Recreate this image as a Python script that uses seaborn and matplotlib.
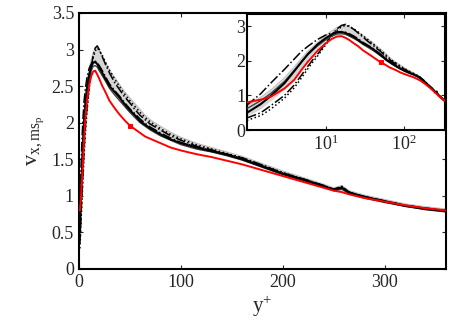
import numpy as np
import pandas as pd
import matplotlib
matplotlib.use("Agg")
import matplotlib.pyplot as plt
import seaborn as sns

# ---- data ----
yplus = [1, 1.5, 2, 3, 4, 5, 6, 7, 8, 10, 12, 14, 16, 18, 20, 23, 26, 30, 35, 40,
         45, 50, 55, 60, 65, 70, 80, 90, 100, 115, 130, 145, 160, 180, 200, 220,
         240, 250, 258, 265, 280, 300, 320, 340, 360]

red = [0.80, 0.88, 0.96, 1.20, 1.45, 1.75, 1.98, 2.15, 2.30, 2.50, 2.63, 2.70, 2.71, 2.66,
       2.60, 2.50, 2.42, 2.30, 2.20, 2.11, 2.03, 1.96, 1.91, 1.86, 1.81, 1.78, 1.72, 1.66,
       1.62, 1.57, 1.53, 1.48, 1.43, 1.35, 1.27, 1.19, 1.11, 1.07, 1.05, 1.02, 0.97, 0.92,
       0.87, 0.83, 0.80]

black_a = [0.50, 0.75, 0.98, 1.35, 1.70, 1.98, 2.20, 2.35, 2.48, 2.65, 2.76, 2.82, 2.83,
           2.80, 2.75, 2.68, 2.60, 2.50, 2.42, 2.34, 2.25, 2.17, 2.10, 2.02, 1.97, 1.92,
           1.84, 1.77, 1.72, 1.66, 1.61, 1.56, 1.50, 1.40, 1.30, 1.22, 1.13, 1.08, 1.11,
           1.04, 0.98, 0.92, 0.86, 0.82, 0.79]

black_b = [0.62, 0.85, 1.05, 1.40, 1.72, 1.98, 2.18, 2.32, 2.44, 2.60, 2.71, 2.77, 2.78,
           2.76, 2.71, 2.64, 2.57, 2.47, 2.38, 2.30, 2.22, 2.14, 2.07, 2.00, 1.95, 1.90,
           1.82, 1.76, 1.70, 1.64, 1.60, 1.55, 1.49, 1.39, 1.29, 1.21, 1.12, 1.07, 1.09,
           1.03, 0.97, 0.91, 0.86, 0.81, 0.78]

dashdot_early = [0.72, 1.05, 1.35, 1.75, 2.05, 2.28, 2.42, 2.53, 2.62, 2.74, 2.80, 2.83,
                 2.84, 2.82, 2.78, 2.71, 2.63, 2.53, 2.44, 2.36, 2.27, 2.19, 2.12, 2.05,
                 1.99, 1.94, 1.86, 1.79, 1.73, 1.67, 1.62, 1.57, 1.51, 1.41, 1.31, 1.23,
                 1.14, 1.09, 1.12, 1.05, 0.99, 0.93, 0.87, 0.83, 0.80]

dashdot_late = [0.35, 0.50, 0.70, 1.00, 1.30, 1.60, 1.85, 2.05, 2.20, 2.50, 2.75, 2.92,
                3.02, 3.05, 3.00, 2.90, 2.80, 2.68, 2.55, 2.45, 2.35, 2.27, 2.18, 2.10,
                2.04, 1.98, 1.90, 1.82, 1.76, 1.68, 1.63, 1.57, 1.52, 1.42, 1.31, 1.23,
                1.14, 1.09, 1.13, 1.05, 0.99, 0.93, 0.87, 0.83, 0.80]

dotted = [0.28, 0.42, 0.60, 0.92, 1.22, 1.52, 1.78, 1.98, 2.15, 2.45, 2.70, 2.88, 2.98,
          3.02, 2.99, 2.92, 2.83, 2.72, 2.60, 2.49, 2.39, 2.30, 2.22, 2.14, 2.07, 2.01,
          1.92, 1.84, 1.78, 1.70, 1.64, 1.58, 1.52, 1.42, 1.32, 1.23, 1.14, 1.09, 1.12,
          1.05, 0.99, 0.93, 0.87, 0.83, 0.80]

grey_lo = [0.40, 0.62, 0.85, 1.18, 1.52, 1.82, 2.06, 2.24, 2.38, 2.58, 2.72, 2.80, 2.82,
           2.80, 2.76, 2.69, 2.61, 2.51, 2.42, 2.34, 2.25, 2.17, 2.10, 2.03, 1.97, 1.92,
           1.84, 1.77, 1.71, 1.65, 1.60, 1.54, 1.48, 1.38, 1.28, 1.20, 1.11, 1.06, 1.07,
           1.02, 0.96, 0.90, 0.85, 0.81, 0.78]

grey_hi = [0.70, 0.95, 1.15, 1.50, 1.82, 2.08, 2.28, 2.42, 2.54, 2.72, 2.86, 2.96, 3.02,
           3.02, 2.98, 2.90, 2.82, 2.72, 2.62, 2.52, 2.42, 2.34, 2.26, 2.18, 2.10, 2.04,
           1.95, 1.87, 1.80, 1.72, 1.66, 1.60, 1.54, 1.44, 1.34, 1.25, 1.16, 1.11, 1.14,
           1.07, 1.01, 0.95, 0.89, 0.85, 0.82]

marker_yplus = 50

main_xticks = [0, 100, 200, 300]
main_yticks = [0, 0.5, 1, 1.5, 2, 2.5, 3, 3.5]
main_yticklabels = ["0", "0.5", "1", "1.5", "2", "2.5", "3", "3.5"]
inset_xticks = [10, 100]
inset_yticks = [0, 1, 2, 3]

# ---- style ----
sns.set_style("ticks")
plt.rcParams["font.family"] = ["Liberation Serif", "DejaVu Serif"]
plt.rcParams["mathtext.fontset"] = "custom"
plt.rcParams["mathtext.rm"] = "Liberation Serif"
plt.rcParams["mathtext.it"] = "Liberation Serif:italic"
plt.rcParams["mathtext.bf"] = "Liberation Serif:bold"

df = pd.DataFrame({"yplus": yplus, "red": red, "black_a": black_a, "black_b": black_b,
                   "dd_early": dashdot_early, "dd_late": dashdot_late, "dotted": dotted,
                   "grey_lo": grey_lo, "grey_hi": grey_hi})
midx = yplus.index(marker_yplus)

fig = plt.figure(figsize=(4.64, 3.32), dpi=100)
ax = fig.add_axes([0.170, 0.190, 0.791, 0.771])
axin = fig.add_axes([0.532, 0.608, 0.427, 0.350])


def draw(a):
    a.fill_between(df["yplus"], df["grey_lo"], df["grey_hi"], color="#d6d6d6", lw=0, zorder=1)
    sns.lineplot(data=df, x="yplus", y="grey_hi", ax=a, color="#bdbdbd", lw=0.8, zorder=2)
    sns.lineplot(data=df, x="yplus", y="dotted", ax=a, color="black", lw=1.1,
                 linestyle=":", zorder=3)
    sns.lineplot(data=df, x="yplus", y="dd_late", ax=a, color="black", lw=1.1,
                 linestyle="-.", zorder=3)
    sns.lineplot(data=df, x="yplus", y="dd_early", ax=a, color="black", lw=1.1,
                 linestyle="-.", zorder=3)
    sns.lineplot(data=df, x="yplus", y="black_b", ax=a, color="#404040", lw=1.0, zorder=4)
    sns.lineplot(data=df, x="yplus", y="black_a", ax=a, color="black", lw=1.5, zorder=4)
    sns.lineplot(data=df, x="yplus", y="red", ax=a, color="red", lw=1.4, zorder=5,
                 marker="s", markersize=3.5, markevery=[midx], markeredgecolor="red")


draw(ax)
ax.set_xlim(0, 360)
ax.set_ylim(0, 3.5)
ax.set_xticks(main_xticks)
ax.set_yticks(main_yticks)
ax.set_yticklabels(main_yticklabels)
ax.set_xlabel("y$^{+}$", fontsize=15, labelpad=2)
ax.set_ylabel(r"v$_{\mathrm{x,ms}_{\mathrm{p}}}$", fontsize=16, labelpad=4)
ax.tick_params(direction="in", top=True, right=True, labelsize=13, length=3, width=0.8)

draw(axin)
axin.set_xscale("log")
axin.set_xlim(1, 330)
axin.set_ylim(0, 3.35)
axin.set_xticks(inset_xticks)
axin.set_yticks(inset_yticks)
axin.minorticks_off()
axin.set_xlabel("")
axin.set_ylabel("")
axin.tick_params(direction="in", top=True, right=True, labelsize=13, length=3, width=0.8)
axin.tick_params(axis="y", pad=1)

for a in (ax, axin):
    for s in a.spines.values():
        s.set_linewidth(1.5)
        s.set_color("black")

fig.savefig("out.png", dpi=100)
